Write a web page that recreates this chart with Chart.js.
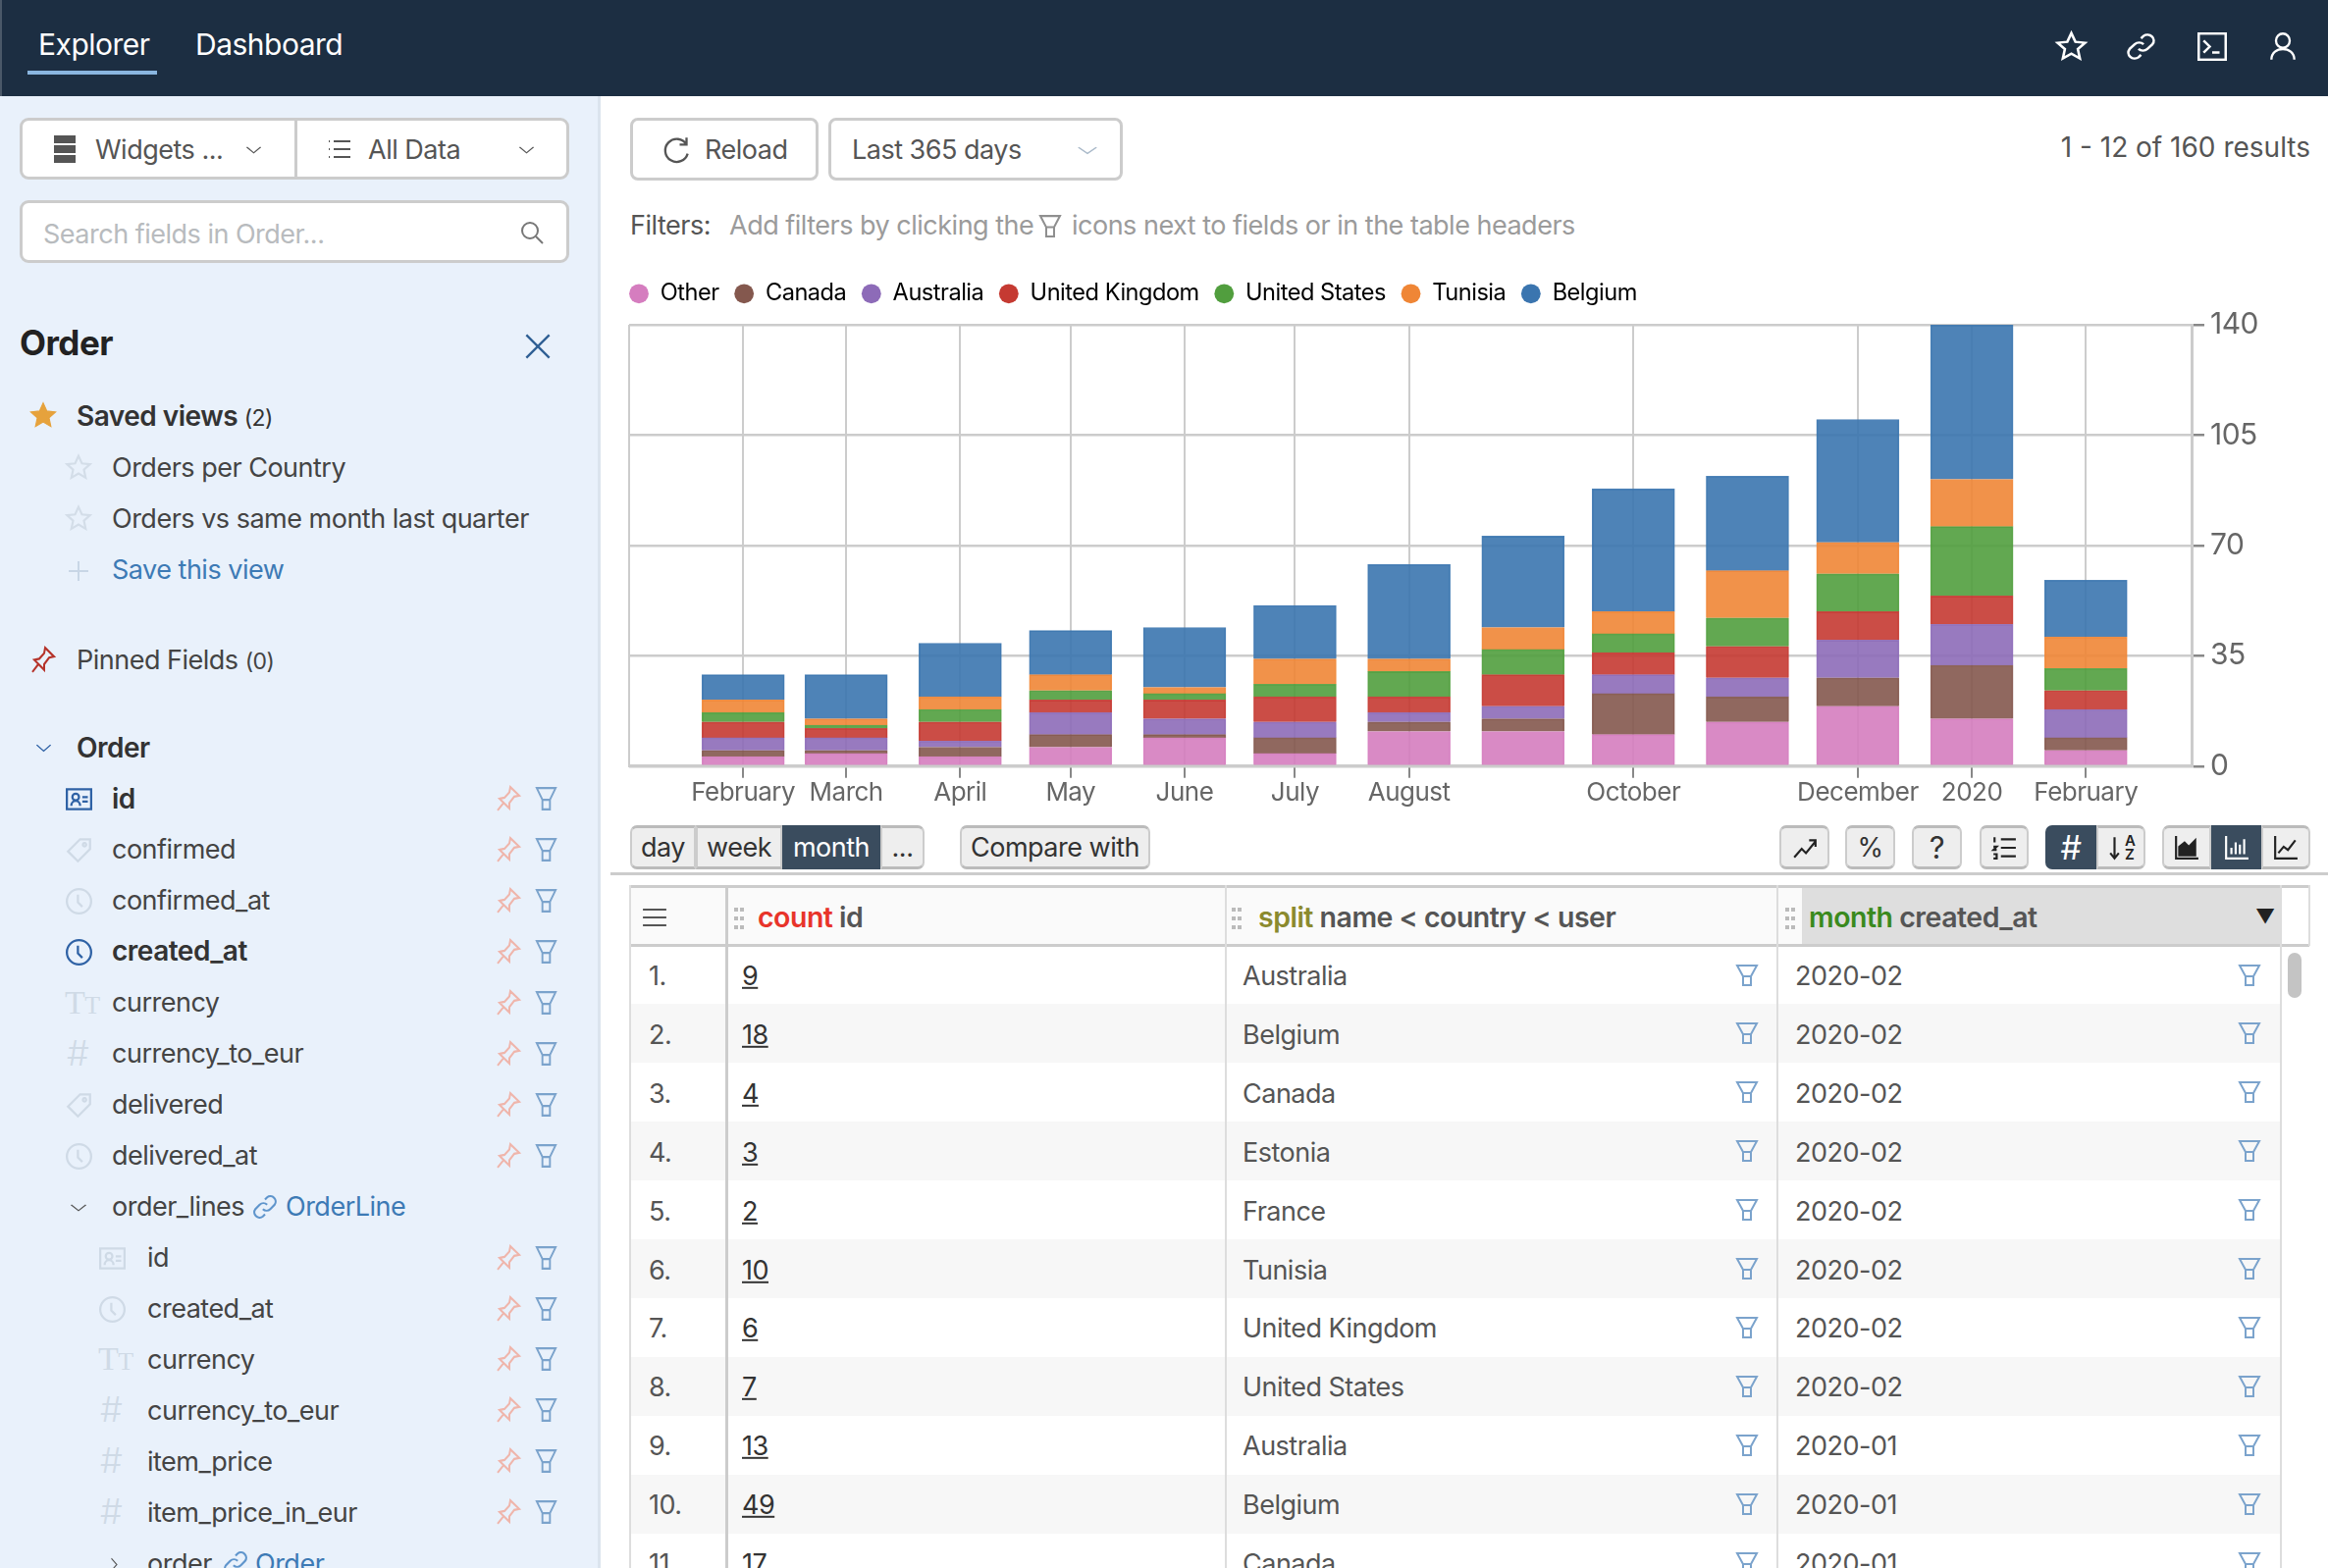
<!DOCTYPE html>
<html>
<head>
<meta charset="utf-8">
<title>Explorer</title>
<script src="https://cdn.jsdelivr.net/npm/chart.js@4"></script>
<style>
html, body { margin: 0; padding: 0; background: #fff; overflow: hidden; }
body { width: 2372px; height: 1598px; position: relative; font-family: Inter, "Noto Sans", sans-serif; color: #555; letter-spacing: -0.5px; }
.t { position: absolute; white-space: nowrap; transform: translateY(-50%); line-height: 1.2; }
.b { position: absolute; box-sizing: border-box; }
svg.i { position: absolute; overflow: visible; }
#chartBox { position: absolute; left: 630px; top: 266px; width: 1677px; height: 558px; }
</style>
</head>
<body>
<div id="ui"></div>
<div id="chartBox"><canvas id="orders"></canvas></div>
<script>
// chart data
const monthStarts = ['2019-02-01', '2019-03-01', '2019-04-01', '2019-05-01', '2019-06-01', '2019-07-01', '2019-08-01', '2019-09-01', '2019-10-01', '2019-11-01', '2019-12-01', '2020-01-01', '2020-02-01'];
const other = [3, 4, 3, 6, 9, 4, 11, 11, 10, 14, 19, 15, 5];
const canada = [2, 1, 3, 4, 1, 5, 3, 4, 13, 8, 9, 17, 4];
const australia = [4, 4, 2, 7, 5, 5, 3, 4, 6, 6, 12, 13, 9];
const unitedKingdom = [5, 3, 6, 4, 6, 8, 5, 10, 7, 10, 9, 9, 6];
const unitedStates = [3, 1, 4, 3, 2, 4, 8, 8, 6, 9, 12, 22, 7];
const tunisia = [4, 2, 4, 5, 2, 8, 4, 7, 7, 15, 10, 15, 10];
const belgium = [8, 14, 17, 14, 19, 17, 30, 29, 39, 30, 39, 49, 18];

const tickDates = ['2019-02-01', '2019-03-01', '2019-04-01', '2019-05-01', '2019-06-01', '2019-07-01', '2019-08-01', '2019-10-01', '2019-12-01', '2020-01-01', '2020-02-01'];
const tickLabels = ['February', 'March', 'April', 'May', 'June', 'July', 'August', 'October', 'December', '2020', 'February'];
const yTicks = [0, 35, 70, 105, 140];
const axisStart = '2019-01-01';
const axisEnd = '2020-03-01';

// table data
const rowNumbers = ['1.', '2.', '3.', '4.', '5.', '6.', '7.', '8.', '9.', '10.', '11.'];
const rowCounts = ['9', '18', '4', '3', '2', '10', '6', '7', '13', '49', '17'];
const rowNames = ['Australia', 'Belgium', 'Canada', 'Estonia', 'France', 'Tunisia', 'United Kingdom', 'United States', 'Australia', 'Belgium', 'Canada'];
const rowMonths = ['2020-02', '2020-02', '2020-02', '2020-02', '2020-02', '2020-02', '2020-02', '2020-02', '2020-01', '2020-01', '2020-01'];

// sidebar fields
const fieldNames = ['id', 'confirmed', 'confirmed_at', 'created_at', 'currency', 'currency_to_eur', 'delivered', 'delivered_at', 'order_lines', 'id', 'created_at', 'currency', 'currency_to_eur', 'item_price', 'item_price_in_eur', 'order'];
const fieldIcons = ['card', 'tag', 'clock', 'clock', 'text', 'hash', 'tag', 'clock', 'fold', 'card', 'clock', 'text', 'hash', 'hash', 'hash', 'fold2'];
const fieldIndent = [0, 0, 0, 0, 0, 0, 0, 0, 0, 1, 1, 1, 1, 1, 1, 1];
const fieldActive = [1, 0, 0, 1, 0, 0, 0, 0, 0, 0, 0, 0, 0, 0, 0, 0];

const ui = document.getElementById('ui');
const PATHS = {
  funnel: '<path d="M2 2h20l-6 11v9H8V13zM8 13h8"/>',
  pin: '<path d="M14 1l9 8-5 1-5 6 0 5-10-9 5-1 5-5zM7 16l-6 7"/>',
  star: '<path d="M12 1.5l3.2 7 7.6.8-5.7 5.1 1.6 7.6-6.7-3.9-6.7 3.9 1.6-7.6L1.2 9.3l7.6-.8z"/>',
  clock: '<circle cx="12" cy="12" r="11"/><path d="M11 6v7l4 4"/>',
  tag: '<path d="M22 2v9L11 22 2 13 13 2zM17 5.5a1.5 1.5 0 1 0 .01 0"/>',
  card: '<rect x="1" y="3" width="22" height="18"/><circle cx="9" cy="10" r="3"/><path d="M5 18c0-6 8-6 8 0M15 10h5M15 14h5"/>',
  chev: '<path d="M2 7l10 11 10-11"/>',
  chevr: '<path d="M7 2l11 10-11 10"/>',
  x: '<path d="M2 2l20 20M22 2L2 22"/>',
  plus: '<path d="M12 2v20M2 12h20"/>',
  search: '<circle cx="10" cy="10" r="8"/><path d="M16 16l7 7"/>',
  list: '<path d="M6 4h17M6 12h17M6 20h17M1 4h1M1 12h1M1 20h1"/>',
  burger: '<path d="M1 4h22M1 12h22M1 20h22"/>',
  link: '<path d="M10 14a5 5 0 0 0 7 0l4-4a5 5 0 0 0-7-7l-2 2M14 10a5 5 0 0 0-7 0l-4 4a5 5 0 0 0 7 7l2-2"/>',
  term: '<rect x="1" y="1" width="22" height="22"/><path d="M5 7l5 5-5 5M12 17h6"/>',
  user: '<circle cx="12" cy="7" r="6"/><path d="M2 23c0-12 20-12 20 0"/>',
  reload: '<path d="M21 8a10 10 0 1 0 1 8M21 2v6h-6"/>',
  trend: '<path d="M2 21l7-8 4 4 9-11M16 5h6v6"/>',
  axisArea: '<path d="M2 1v21h21"/><path d="M5 19V11l5-4 4 4 6-6v14z" style="fill:#222"/>',
  axisBar: '<path d="M2 1v21h21M7 18v-6M11 18V7M15 18v-9M19 18V4"/>',
  axisLine: '<path d="M2 1v21h21M5 17l5-6 4 3 7-9"/>',
  olist: '<path d="M9 4h14M9 12h14M9 20h14M3 2v5M2 11h3l-3 3h3M2 18h3v4H2"/>',
  sort: '<path d="M6 2v20M2 17l4 5 4-5"/>'
};

function txt(x, y, s, o) {
  o = o || {};
  const e = document.createElement('div');
  e.className = 't';
  e.style.cssText = 'left:' + x + 'px;top:' + (y + 1.5) + 'px;font-size:' + (o.size || 27) + 'px;color:' + (o.color || '#555') + ';font-weight:' + (o.weight || 400) + ';' + (o.css || '');
  e.innerHTML = s;
  ui.appendChild(e);
}
function box(x, y, w, h, css) {
  const e = document.createElement('div');
  e.className = 'b';
  e.style.cssText = 'left:' + x + 'px;top:' + y + 'px;width:' + w + 'px;height:' + h + 'px;' + (css || '');
  ui.appendChild(e);
}
function icon(name, x, y, w, h, color, sw, fill) {
  ui.insertAdjacentHTML('beforeend', '<svg class="i" viewBox="0 0 24 24" preserveAspectRatio="none" style="left:' + x + 'px;top:' + y + 'px;width:' + w + 'px;height:' + h + 'px;fill:' + (fill || 'none') + '" stroke="' + color + '" stroke-width="' + (sw || 2) + '">' + PATHS[name] + '</svg>');
}

// top bar
box(0, 0, 2372, 98, 'background:#1c2e42');
box(0, 0, 2, 98, 'background:#4a5868');
txt(39, 43.5, 'Explorer', { size: 30, color: '#fff' });
box(28, 72, 132, 4, 'background:#8ab6e0');
txt(199, 43.5, 'Dashboard', { size: 30, color: '#fff' });
icon('star', 2095, 32, 31, 30, '#fff', 2);
icon('link', 2166, 33, 31, 29, '#fff', 2);
icon('term', 2239, 33, 30, 29, '#fff', 2);
icon('user', 2312, 33, 28, 29, '#fff', 2);

// sidebar
box(0, 98, 612, 1500, 'background:#e9f1fb;border-right:3px solid #dbe4ee');
box(20, 120, 560, 63, 'background:#fff;border:3px solid #ccc;border-radius:9px');
box(300, 121, 3, 61, 'background:#ccc');
box(55, 138, 22, 8, 'background:#555');
box(55, 148, 22, 8, 'background:#555');
box(55, 158, 22, 8, 'background:#555');
txt(97, 151, 'Widgets ...');
icon('chev', 250, 146, 17, 13, '#555', 2);
icon('list', 334, 140, 24, 24, '#555', 2);
txt(375, 151, 'All Data');
icon('chev', 528, 146, 17, 13, '#555', 2);
box(20, 204, 560, 64, 'background:#fff;border:3px solid #ccc;border-radius:9px');
txt(44, 237, 'Search fields in Order...', { color: '#b8bbbe' });
icon('search', 530, 225, 24, 24, '#777', 2);
txt(20, 347, 'Order', { size: 35, weight: 700, color: '#222' });
icon('x', 534, 339, 28, 28, '#2f5f94', 2);

icon('star', 30, 409, 28, 28, '#e6a23c', 1, '#e6a23c');
txt(78, 423, 'Saved views <span style="font-weight:400;font-size:23px">(2)</span>', { size: 28, weight: 600, color: '#333' });
icon('star', 67, 463, 26, 26, '#d3dde8', 2);
txt(114, 475, 'Orders per Country', { color: '#444' });
icon('star', 67, 515, 26, 26, '#d3dde8', 2);
txt(114, 527, 'Orders vs same month last quarter', { color: '#444' });
icon('plus', 68, 570, 24, 24, '#c8d6e6', 2);
txt(114, 579, 'Save this view', { color: '#3d7ab5' });
icon('pin', 32, 659, 24, 27, '#b5332a', 2);
txt(78, 671, 'Pinned Fields <span style="font-size:23px">(0)</span>', { color: '#444' });
icon('chev', 36, 755, 17, 14, '#2f62a5', 2);
txt(78, 761, 'Order', { size: 28, weight: 600, color: '#333' });

fieldNames.forEach(function (name, i) {
  const y = 814 + 51.95 * i;
  const ix = fieldIndent[i] ? 101 : 67;
  const tx = fieldIndent[i] ? 150 : 114;
  const c = fieldActive[i] ? '#2f62a5' : '#cfdae6';
  const kind = fieldIcons[i];
  if (kind === 'text') txt(ix - 1, y - 1.5, 'T<span style="font-size:26px">T</span>', { size: 34, color: '#cfdae6', css: 'font-family:\'Liberation Serif\'' });
  else if (kind === 'hash') txt(ix + 1, y - 1.5, '#', { size: 36, color: '#cfdae6', weight: 300 });
  else if (kind === 'fold') icon('chev', 71, y - 6, 18, 13, '#555', 2);
  else if (kind === 'fold2') icon('chevr', 110, y - 6, 12, 15, '#555', 2);
  else icon(kind, ix, y - 13, 27, 27, c, 2);
  txt(tx, y - 1, name, { size: fieldActive[i] ? 28 : 27, color: fieldActive[i] ? '#333' : '#444', weight: fieldActive[i] ? 600 : 400 });
  if (kind === 'fold') {
    icon('link', 257, y - 13, 26, 26, '#5f95cc', 2);
    txt(291, y - 1, 'OrderLine', { color: '#3d7ab5' });
  } else if (kind === 'fold2') {
    icon('link', 227, y - 13, 26, 26, '#5f95cc', 2);
    txt(260, y - 1, 'Order', { color: '#3d7ab5' });
  } else {
    icon('pin', 506, y - 13, 24, 26, '#efb5ab', 2);
    icon('funnel', 545, y - 13, 23, 26, '#7ba3cc', 2);
  }
});

// top controls
box(642, 120, 192, 64, 'border:3px solid #ccc;border-radius:8px');
icon('reload', 675, 138, 28, 28, '#555', 2);
txt(718, 151, 'Reload');
box(844, 120, 300, 64, 'border:3px solid #ccc;border-radius:8px');
txt(868, 151, 'Last 365 days');
icon('chev', 1097, 146, 22, 14, '#a9b9c9', 2);
txt(2054, 149, '1 - 12 of 160 results', { size: 28, css: 'width:300px;text-align:right;letter-spacing:0;' });
txt(642, 228.5, 'Filters:');
txt(743, 228.5, 'Add filters by clicking the', { color: '#9b9b9b' });
icon('funnel', 1058, 218, 24, 25, '#8f8f8f', 2);
txt(1092, 228.5, 'icons next to fields or in the table headers', { color: '#9b9b9b' });

// toolbar under the chart
function tool(x, w, s, on, rad, svg, size) {
  box(x, 841, w, 45, 'background:' + (on ? '#3a4c5e' : '#eee') + ';border-top:3px solid ' + (on ? '#3a4c5e' : '#bbb') + ';border-bottom:3px solid ' + (on ? '#3a4c5e' : '#bbb') + ';border-left:2px solid ' + (on ? '#3a4c5e' : '#ccc') + ';border-right:2px solid ' + (on ? '#3a4c5e' : '#ccc') + ';border-radius:' + rad);
  if (s) txt(x + w / 2, 862.5, s, { size: size || 27, color: on ? '#fff' : '#333', css: 'transform:translate(-50%,-50%);' });
  if (svg) icon(svg, x + w / 2 - 13, 851, 26, 26, on ? '#fff' : '#222', 2);
}
tool(642, 67, 'day', 0, '7px 0 0 7px');
tool(709, 88, 'week', 0, '0');
tool(797, 100, 'month', 1, '0');
tool(897, 45, '...', 0, '0 7px 7px 0');
tool(978, 194, 'Compare with', 0, '7px');
tool(1813, 51, '', 0, '7px', 'trend');
tool(1880, 51, '%', 0, '7px');
tool(1948, 51, '?', 0, '7px', null, 31);
tool(2017, 50, '', 0, '7px', 'olist');
tool(2084, 52, '#', 1, '7px 0 0 7px', null, 34);
tool(2136, 50, '', 0, '0 7px 7px 0', 'sort');
txt(2165, 862.5, 'A<br>Z', { size: 15, color: '#222', css: 'line-height:14px;font-weight:600;' });
tool(2203, 50, '', 0, '7px 0 0 7px', 'axisArea');
tool(2253, 51, '', 1, '0', 'axisBar');
tool(2304, 50, '', 0, '0 7px 7px 0', 'axisLine');
box(622, 889, 1750, 3, 'background:#ccc');

// table
box(642, 904, 1681, 59, 'background:#fafafa');
box(1836, 904, 487, 59, 'background:#dedede');
rowNumbers.forEach(function (n, i) {
  const y = 993.5 + 59.9 * i;
  if (i % 2 === 1) box(642, y - 30, 1681, 60, 'background:#f7f7f7');
  txt(661, y, n);
  txt(756, y, rowCounts[i], { color: '#333', css: 'text-decoration:underline;' });
  txt(1266, y, rowNames[i]);
  icon('funnel', 1768, y - 12, 24, 24, '#7ba3cc', 2);
  txt(1829, y, rowMonths[i]);
  icon('funnel', 2280, y - 12, 24, 24, '#7ba3cc', 2);
});
box(642, 902, 1711, 3, 'background:#ccc');
box(642, 962, 1711, 3, 'background:#ccc');
box(641, 902, 2, 696, 'background:#ddd');
box(739, 902, 3, 696, 'background:#ccc');
box(1248, 902, 2, 696, 'background:#ddd');
box(1810, 902, 2, 696, 'background:#ddd');
box(2323, 902, 2, 696, 'background:#ddd');
box(2352, 902, 2, 62, 'background:#ddd');
box(2331, 971, 14, 46, 'background:#c4c4c4;border-radius:7px');
icon('burger', 654, 923, 26, 24, '#555', 2);
for (const gx of [748, 1255, 1819]) {
  for (const dy of [0, 9, 18]) {
    box(gx, 925 + dy, 4, 4, 'background:#bbb');
    box(gx + 6, 925 + dy, 4, 4, 'background:#bbb');
  }
}
txt(772, 933, '<span style="color:#e8342a">count</span> id', { size: 28.5, weight: 600 });
txt(1282, 933, '<span style="color:#8b8a2e">split</span> name &lt; country &lt; user', { size: 28.5, weight: 600 });
txt(1843, 933, '<span style="color:#3a8a1e">month</span> created_at', { size: 28.5, weight: 600 });
txt(2298, 932, '▼', { size: 20, color: '#222' });

// chart
const series = [
  ['Other', other, '213,125,191'],
  ['Canada', canada, '132,88,78'],
  ['Australia', australia, '141,107,184'],
  ['United Kingdom', unitedKingdom, '197,58,50'],
  ['United States', unitedStates, '81,158,62'],
  ['Tunisia', tunisia, '239,134,54'],
  ['Belgium', belgium, '59,117,175']
];
const tickValues = tickDates.map(function (d) { return Date.parse(d); });
const LEGEND_GAP = 15.5;

// the reference legend starts at the plot's left edge, a bit above the plot
const legendShift = {
  id: 'legendShift',
  afterLayout: function (chart) {
    chart.legend.left -= LEGEND_GAP;
    chart.legend.top -= 10;
  }
};

new Chart(document.getElementById('orders'), {
  type: 'bar',
  plugins: [legendShift],
  data: {
    datasets: series.map(function (s) {
      return {
        label: s[0],
        data: s[1].map(function (v, i) { return { x: Date.parse(monthStarts[i]), y: v }; }),
        backgroundColor: 'rgba(' + s[2] + ',0.9)',
        borderColor: 'rgba(' + s[2] + ',0.9)',
        borderWidth: 1,
        barThickness: 84,
        pointStyle: 'circle'
      };
    })
  },
  options: {
    responsive: true, maintainAspectRatio: false, animation: false, devicePixelRatio: 1,
    events: [],
    layout: { padding: { left: 11, right: 0, top: 16, bottom: 0 } },
    plugins: {
      tooltip: { enabled: false },
      legend: {
        position: 'top', align: 'start',
        labels: {
          usePointStyle: true, boxWidth: 20, boxHeight: 14, padding: LEGEND_GAP,
          color: '#666', font: { size: 23.6, family: 'Inter, sans-serif' },
          generateLabels: function (chart) {
            return chart.data.datasets.map(function (d, i) {
              return { text: d.label, datasetIndex: i, fillStyle: 'rgb(' + series[i][2] + ')', strokeStyle: 'rgb(' + series[i][2] + ')', lineWidth: 0, pointStyle: 'circle' };
            });
          }
        }
      }
    },
    scales: {
      x: {
        type: 'linear', stacked: true, offset: false,
        min: Date.parse(axisStart), max: Date.parse(axisEnd),
        afterBuildTicks: function (scale) {
          scale.ticks = [{ value: Date.parse(axisStart) }].concat(tickValues.map(function (v) { return { value: v }; }));
        },
        grid: {
          offset: false, color: '#ccc', lineWidth: 2, tickLength: 12,
          tickColor: function (ctx) { return ctx.index === 0 ? 'rgba(0,0,0,0)' : '#888'; }
        },
        border: { color: '#ccc', width: 3 },
        ticks: {
          autoSkip: false, maxRotation: 0, minRotation: 0, padding: 0, color: '#666', font: { size: 26, family: 'Inter, sans-serif' },
          callback: function (v, i) { return i === 0 ? '' : tickLabels[i - 1]; }
        }
      },
      y: {
        type: 'linear', position: 'right', stacked: true, min: 0, max: 140,
        afterBuildTicks: function (scale) { scale.ticks = yTicks.map(function (v) { return { value: v }; }); },
        grid: { color: '#ccc', lineWidth: 2.5, tickLength: 12, tickColor: '#888' },
        border: { color: '#ccc', width: 3 },
        ticks: { padding: 6, color: '#666', font: { size: 30, family: 'Inter, sans-serif' } }
      }
    }
  }
});
</script>
</body>
</html>
